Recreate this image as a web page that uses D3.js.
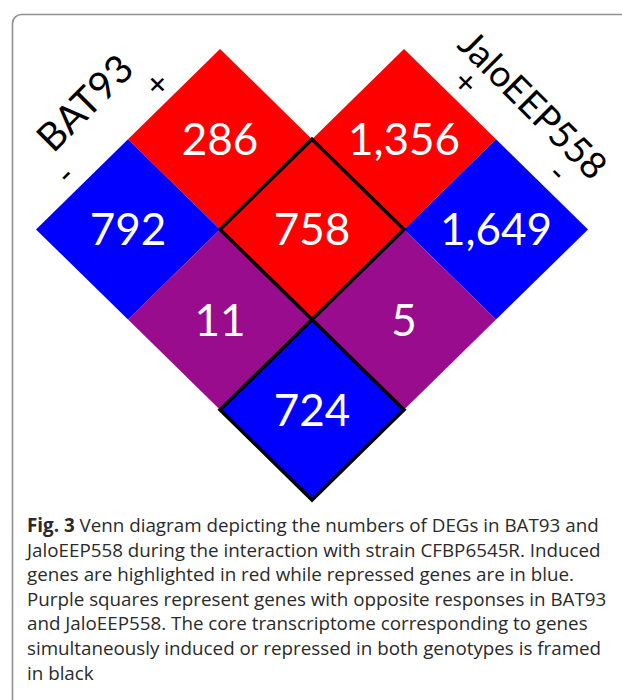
<!DOCTYPE html>
<html>
<head>
<meta charset="utf-8">
<script src="https://cdn.jsdelivr.net/npm/d3@7"></script>
<style>
  body { margin: 0; background: #fff; }
  svg { display: block; }
</style>
</head>
<body>
<div id="chart"></div>
<script>
(function(d3) {
  'use strict';

  // cell counts, with the response in each genotype (0 = not DE, 1 = induced, 2 = repressed)
  var counts = ['286', '1,356', '792', '758', '1,649', '11', '5', '724'];
  var jaloResp = [0, 1, 0, 1, 2, 1, 2, 2];
  var batResp = [1, 0, 2, 1, 0, 2, 1, 2];
  var levelSigns = ['+', '-'];
  var captionLines = [
    'Venn diagram depicting the numbers of DEGs in BAT93 and',
    'JaloEEP558 during the interaction with strain CFBP6545R. Induced',
    'genes are highlighted in red while repressed genes are in blue.',
    'Purple squares represent genes with opposite responses in BAT93',
    'and JaloEEP558. The core transcriptome corresponding to genes',
    'simultaneously induced or repressed in both genotypes is framed',
    'in black'
  ];

  var width = 622;
  var height = 700;

  var svg = d3.select('#chart')
    .append('svg')
    .attr('width', width)
    .attr('height', height);

  // rounded frame (runs off the right and bottom)
  svg.append('rect')
    .attr('x', 12.5)
    .attr('y', 14.5)
    .attr('width', 640)
    .attr('height', 720)
    .attr('rx', 9)
    .attr('fill', 'none')
    .attr('stroke', '#8f8f8f')
    .attr('stroke-width', 1.6);

  // diamond lattice: x from (jalo - bat), y from (jalo + bat)
  var x = d3.scaleLinear().domain([-3, 3]).range([36, 588]);
  var y = d3.scaleLinear().domain([0, 5]).range([49, 500]);

  var cells = counts.map(function(c, i) {
    var u = jaloResp[i], v = batResp[i];
    var color;
    if (u === 0) color = v === 1 ? 'red' : 'blue';
    else if (v === 0) color = u === 1 ? 'red' : 'blue';
    else if (u === v) color = u === 1 ? 'red' : 'blue';
    else color = 'purple';
    return { label: c, u: u, v: v, color: color, core: u > 0 && u === v };
  });

  var fills = { red: '#ff0000', blue: '#0000ff', purple: '#9a0c8e' };

  function diamond(d) {
    var s = d.u - d.v, t = d.u + d.v;
    return 'M' + x(s) + ',' + y(t - 1) +
      'L' + x(s + 1) + ',' + y(t) +
      'L' + x(s) + ',' + y(t + 1) +
      'L' + x(s - 1) + ',' + y(t) + 'Z';
  }

  svg.selectAll('path.cell')
    .data(cells)
    .enter()
    .append('path')
    .attr('class', 'cell')
    .attr('d', diamond)
    .attr('fill', function(d) { return fills[d.color]; });

  svg.selectAll('path.core')
    .data(cells.filter(function(d) { return d.core; }))
    .enter()
    .append('path')
    .attr('class', 'core')
    .attr('d', diamond)
    .attr('fill', 'none')
    .attr('stroke', '#000')
    .attr('stroke-width', 3.5)
    .attr('stroke-linejoin', 'miter');

  svg.selectAll('text.count')
    .data(cells)
    .enter()
    .append('text')
    .attr('class', 'count')
    .attr('x', function(d) { return x(d.u - d.v); })
    .attr('y', function(d) { return y(d.u + d.v) + 16; })
    .attr('text-anchor', 'middle')
    .attr('fill', '#fff')
    .style('font-family', 'Lato, sans-serif')
    .style('font-size', '44px')
    .text(function(d) { return d.label; });

  // genotype names
  svg.append('text')
    .attr('transform', 'translate(84,102) rotate(-45)')
    .attr('text-anchor', 'middle')
    .attr('dominant-baseline', 'central')
    .style('font-family', 'Lato, sans-serif')
    .style('font-size', '39px')
    .text('BAT93');

  svg.append('text')
    .attr('transform', 'translate(534,104) rotate(45)')
    .attr('text-anchor', 'middle')
    .attr('dominant-baseline', 'central')
    .style('font-family', 'Lato, sans-serif')
    .style('font-size', '37px')
    .text('JaloEEP558');

  // + / - along each outer edge
  svg.selectAll('text.batSign')
    .data(levelSigns)
    .enter()
    .append('text')
    .attr('class', 'batSign')
    .attr('transform', function(d, i) {
      var lv = i + 1;
      return 'translate(' + (x(-lv - 0.5) - 18) + ',' + (y(lv - 0.5) - 11) + ') rotate(-45)';
    })
    .attr('text-anchor', 'middle')
    .attr('dominant-baseline', 'central')
    .style('font-family', 'Lato, sans-serif')
    .style('font-size', '34px')
    .text(function(d) { return d; });

  svg.selectAll('text.jaloSign')
    .data(levelSigns)
    .enter()
    .append('text')
    .attr('class', 'jaloSign')
    .attr('transform', function(d, i) {
      var lv = i + 1;
      return 'translate(' + (x(lv + 0.5) + 17) + ',' + (y(lv - 0.5) - 13) + ') rotate(45)';
    })
    .attr('text-anchor', 'middle')
    .attr('dominant-baseline', 'central')
    .style('font-family', 'Lato, sans-serif')
    .style('font-size', '34px')
    .text(function(d) { return d; });

  // caption
  var caption = svg.append('text')
    .attr('x', 27)
    .attr('y', 532)
    .attr('fill', '#2a2a2a')
    .style('font-family', '"Open Sans", sans-serif')
    .style('font-size', '18.8px');

  caption.selectAll('tspan')
    .data(captionLines)
    .enter()
    .append('tspan')
    .attr('x', 27)
    .attr('dy', function(d, i) { return i === 0 ? 0 : 24.6; })
    .each(function(d, i) {
      var ts = d3.select(this);
      if (i === 0) {
        ts.append('tspan').style('font-weight', 'bold').text('Fig. 3');
        ts.append('tspan').text(' ' + d);
      } else {
        ts.text(d);
      }
    });

})(window.d3);
</script>
</body>
</html>
